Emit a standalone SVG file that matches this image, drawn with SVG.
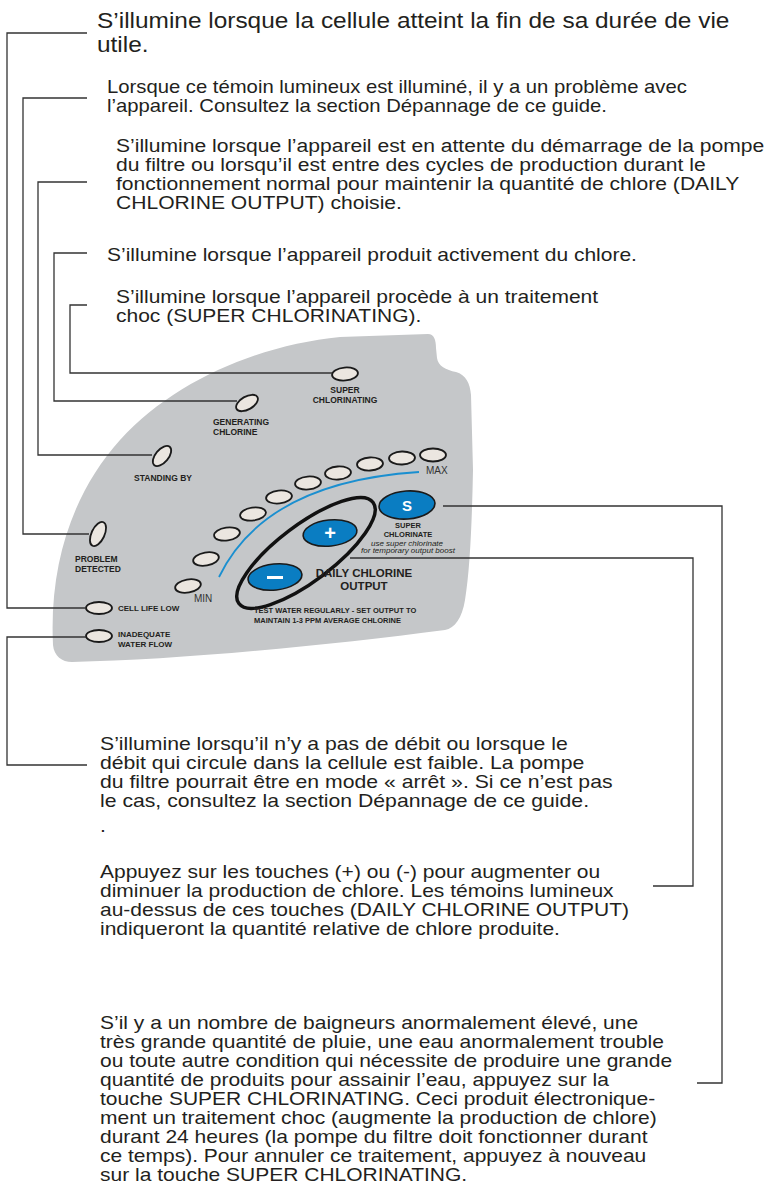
<svg xmlns="http://www.w3.org/2000/svg" width="770" height="1200" viewBox="0 0 770 1200">
<style>
.p{font-family:"Liberation Sans",Arial,Helvetica,sans-serif;font-size:18.6px;fill:#231f20}
.p1{font-family:"Liberation Sans",Arial,Helvetica,sans-serif;font-size:22px;fill:#231f20}
.lb{font-family:"Liberation Sans",Arial,sans-serif;font-weight:bold;font-size:8.5px;fill:#231f20}
.led{fill:#ebe6e0;stroke:#1a1a1a;stroke-width:1.8}
.btn{fill:#0a7dc2;stroke:#1a1a1a;stroke-width:1.6}
.bt{font-family:"Liberation Sans",Arial,sans-serif;font-weight:bold;fill:#ffffff;text-anchor:middle}
.c{fill:none;stroke:#333;stroke-width:1.3}
</style>
<rect width="770" height="1200" fill="#ffffff"/>
<g id="panel">
<path d="M72,662 C62,662 54,656 53,645 C49,560 75,490 120,440 C175,380 260,345 340,337 L428,334 C434,334 436,340 436,348 L437,358 C438,366 446,370 456,372 C466,375 470,383 471,395 L473,470 C472,520 470,570 465,600 C462,618 455,628 445,630 C330,645 180,660 72,662 Z" fill="#c5c7c9"/>
<path d="M219,577 Q265,482 419,472" fill="none" stroke="#1a8fd0" stroke-width="1.8"/>
<ellipse cx="306" cy="553" rx="84" ry="28" transform="rotate(-37 306 553)" fill="none" stroke="#111" stroke-width="3.5"/>
</g>
<g id="led-super-chlorinating"><ellipse class="led" cx="345" cy="374" rx="13" ry="6.5" transform="rotate(-5 345 374)"/>
<text class="lb" x="345" y="393" text-anchor="middle">SUPER</text><text class="lb" x="345" y="403" text-anchor="middle">CHLORINATING</text></g>
<g id="led-generating"><ellipse class="led" cx="247" cy="403" rx="12" ry="6.5" transform="rotate(-30 247 403)"/>
<text class="lb" x="213" y="425">GENERATING</text><text class="lb" x="213" y="435">CHLORINE</text></g>
<g id="led-standing-by"><ellipse class="led" cx="162" cy="456" rx="12" ry="6.5" transform="rotate(-50 162 456)"/>
<text class="lb" x="163" y="481" text-anchor="middle">STANDING BY</text></g>
<g id="led-problem"><ellipse class="led" cx="98" cy="534" rx="13" ry="6.5" transform="rotate(-65 98 534)"/>
<text class="lb" x="75" y="562">PROBLEM</text><text class="lb" x="75" y="572">DETECTED</text></g>
<g id="led-cell-life"><ellipse class="led" cx="99" cy="608" rx="13" ry="6"/>
<text class="lb" x="118" y="611" style="font-size:8px">CELL LIFE LOW</text></g>
<g id="led-water-flow"><ellipse class="led" cx="99" cy="636" rx="13" ry="6"/>
<text class="lb" x="118" y="637" style="font-size:8px">INADEQUATE</text><text class="lb" x="118" y="647" style="font-size:8px">WATER FLOW</text></g>
<g id="output-leds">
<ellipse class="led" cx="188" cy="586" rx="13" ry="6.5" transform="rotate(-10 188 586)"/>
<ellipse class="led" cx="206" cy="559" rx="13" ry="6.5" transform="rotate(-10 206 559)"/>
<ellipse class="led" cx="227" cy="534" rx="13" ry="6.5" transform="rotate(-8 227 534)"/>
<ellipse class="led" cx="253" cy="514" rx="13" ry="6.5" transform="rotate(-8 253 514)"/>
<ellipse class="led" cx="279" cy="497" rx="13" ry="6.5" transform="rotate(-6 279 497)"/>
<ellipse class="led" cx="308" cy="483" rx="13" ry="6.5" transform="rotate(-5 308 483)"/>
<ellipse class="led" cx="338" cy="473" rx="13" ry="6.5" transform="rotate(-4 338 473)"/>
<ellipse class="led" cx="370" cy="464" rx="13" ry="6.5" transform="rotate(-3 370 464)"/>
<ellipse class="led" cx="402" cy="458" rx="13" ry="6.5" transform="rotate(-2 402 458)"/>
<ellipse class="led" cx="433" cy="455" rx="13" ry="6.5"/>
<text x="194" y="602" font-family="Liberation Sans,Arial,sans-serif" font-size="10" fill="#333">MIN</text>
<text x="426" y="474" font-family="Liberation Sans,Arial,sans-serif" font-size="10" fill="#333">MAX</text>
</g>
<g id="btn-minus"><ellipse class="btn" cx="275" cy="577" rx="27" ry="13" transform="rotate(-6 275 577)"/><rect x="267" y="576" width="16" height="3" fill="#fff"/></g>
<g id="btn-plus"><ellipse class="btn" cx="330" cy="533" rx="27" ry="13" transform="rotate(-6 330 533)"/><text class="bt" x="330" y="540" font-size="20">+</text></g>
<g id="btn-super"><ellipse class="btn" cx="407" cy="505" rx="28" ry="14" transform="rotate(-4 407 505)"/><text class="bt" x="407" y="511" font-size="15">S</text>
<text class="lb" x="408" y="528" text-anchor="middle" style="font-size:7.5px">SUPER</text>
<text class="lb" x="408" y="537" text-anchor="middle" style="font-size:7.5px">CHLORINATE</text>
<text x="407" y="546" text-anchor="middle" font-family="Liberation Sans,Arial,sans-serif" font-style="italic" font-size="8" fill="#231f20">use super chlorinate</text>
<text x="408" y="553" text-anchor="middle" font-family="Liberation Sans,Arial,sans-serif" font-style="italic" font-size="8" fill="#231f20">for temporary output boost</text></g>
<g id="daily-output">
<text class="lb" x="364" y="577" text-anchor="middle" style="font-size:11.5px">DAILY CHLORINE</text>
<text class="lb" x="364" y="590" text-anchor="middle" style="font-size:11.5px">OUTPUT</text>
<text class="lb" x="254" y="613" style="font-size:7.5px">TEST WATER REGULARLY - SET OUTPUT TO</text>
<text class="lb" x="254" y="623" style="font-size:7.5px">MAINTAIN 1-3 PPM AVERAGE CHLORINE</text>
</g>
<g id="connectors">
<path class="c" d="M87,33 H7 V608 H86"/>
<path class="c" d="M87,98 H23 V534 H89"/>
<path class="c" d="M87,182 H38 V455 H152"/>
<path class="c" d="M87,253 H54 V401 H237"/>
<path class="c" d="M87,305 H70 V373 H332"/>
<path class="c" d="M86,637 H7 V765 H87"/>
<path class="c" d="M443,506 H722 V1083 H697"/>
<path class="c" d="M350,558 H693 V886 H653"/>
</g>
<g id="text-cell-life" transform="translate(97 0) scale(1.11 1)"><text class="p1" x="0" y="28">S’illumine lorsque la cellule atteint la fin de sa durée de vie</text><text class="p1" x="0" y="52">utile.</text></g>
<g id="text-problem" transform="translate(107 0) scale(1.09 1)"><text class="p" x="0" y="93">Lorsque ce témoin lumineux est illuminé, il y a un problème avec</text><text class="p" x="0" y="112">l’appareil. Consultez la section Dépannage de ce guide.</text></g>
<g id="text-standing-by" transform="translate(116 0) scale(1.135 1)"><text class="p" x="0" y="152">S’illumine lorsque l’appareil est en attente du démarrage de la pompe</text><text class="p" x="0" y="171">du filtre ou lorsqu’il est entre des cycles de production durant le</text><text class="p" x="0" y="190">fonctionnement normal pour maintenir la quantité de chlore (DAILY</text><text class="p" x="0" y="209">CHLORINE OUTPUT) choisie.</text></g>
<g id="text-generating" transform="translate(107 0) scale(1.13 1)"><text class="p" x="0" y="261">S’illumine lorsque l’appareil produit activement du chlore.</text></g>
<g id="text-super" transform="translate(116 0) scale(1.13 1)"><text class="p" x="0" y="303">S’illumine lorsque l’appareil procède à un traitement</text><text class="p" x="0" y="322">choc (SUPER CHLORINATING).</text></g>
<g id="text-water-flow" transform="translate(100 0) scale(1.14 1)"><text class="p" x="0" y="750">S’illumine lorsqu’il n’y a pas de débit ou lorsque le</text><text class="p" x="0" y="769">débit qui circule dans la cellule est faible. La pompe</text><text class="p" x="0" y="788">du filtre pourrait être en mode « arrêt ». Si ce n’est pas</text><text class="p" x="0" y="807">le cas, consultez la section Dépannage de ce guide.</text><text class="p" x="0" y="832">.</text></g>
<g id="text-output" transform="translate(100 0) scale(1.13 1)"><text class="p" x="0" y="878">Appuyez sur les touches (+) ou (-) pour augmenter ou</text><text class="p" x="0" y="897">diminuer la production de chlore. Les témoins lumineux</text><text class="p" x="0" y="916">au-dessus de ces touches (DAILY CHLORINE OUTPUT)</text><text class="p" x="0" y="935">indiqueront la quantité relative de chlore produite.</text></g>
<g id="text-super-chlorinate" transform="translate(100 0) scale(1.13 1)"><text class="p" x="0" y="1029">S’il y a un nombre de baigneurs anormalement élevé, une</text><text class="p" x="0" y="1048">très grande quantité de pluie, une eau anormalement trouble</text><text class="p" x="0" y="1067">ou toute autre condition qui nécessite de produire une grande</text><text class="p" x="0" y="1086">quantité de produits pour assainir l’eau, appuyez sur la</text><text class="p" x="0" y="1105">touche SUPER CHLORINATING. Ceci produit électronique-</text><text class="p" x="0" y="1124">ment un traitement choc (augmente la production de chlore)</text><text class="p" x="0" y="1143">durant 24 heures (la pompe du filtre doit fonctionner durant</text><text class="p" x="0" y="1162">ce temps). Pour annuler ce traitement, appuyez à nouveau</text><text class="p" x="0" y="1181">sur la touche SUPER CHLORINATING.</text></g>
</svg>
